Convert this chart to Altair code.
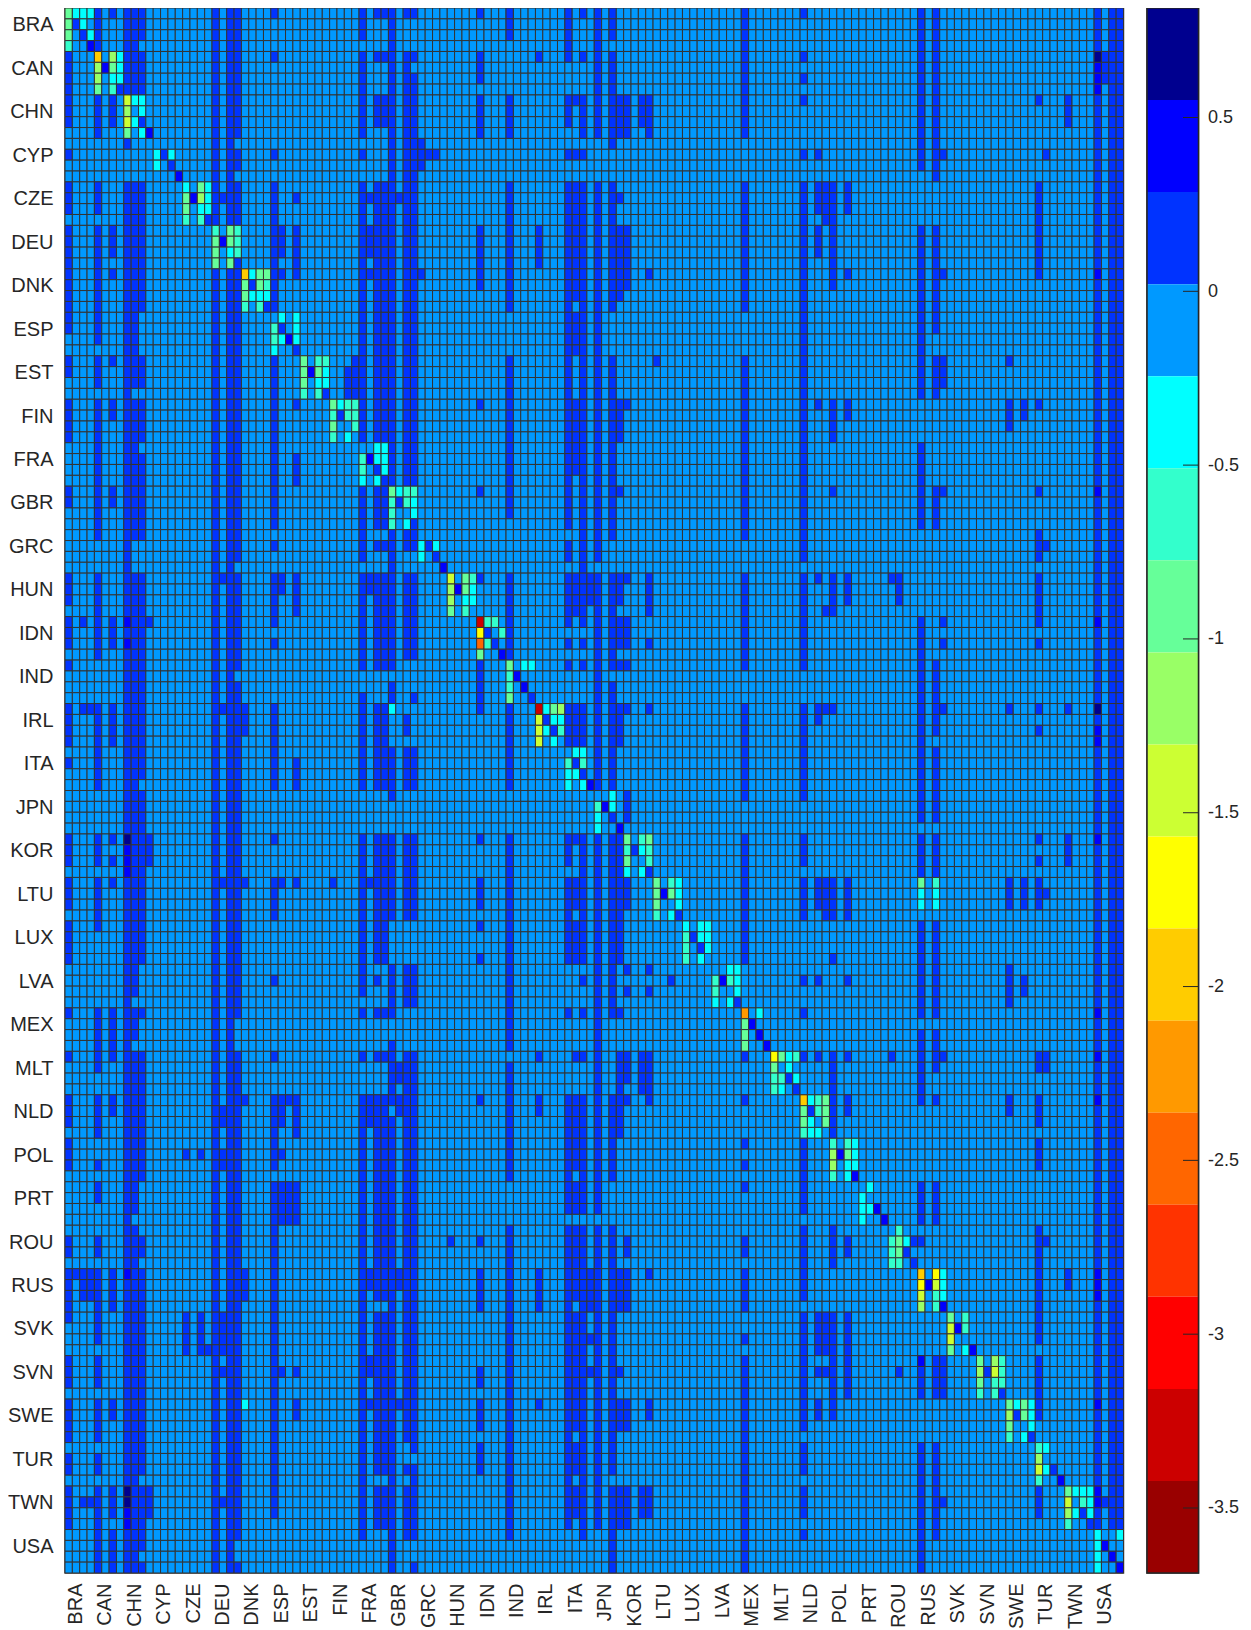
import altair as alt

alt.data_transformers.disable_max_rows()

COUNTRIES = ["BRA","CAN","CHN","CYP","CZE","DEU","DNK","ESP","EST","FIN","FRA","GBR","GRC","HUN","IDN","IND","IRL","ITA",
             "JPN","KOR","LTU","LUX","LVA","MEX","MLT","NLD","POL","PRT","ROU","RUS","SVK","SVN","SWE","TUR","TWN","USA"]

# colour levels, top of the colour bar first
LEVEL_COLORS = ["#00008f","#0000ff","#0033ff","#0099ff","#00ffff","#33ffcc","#66ff99","#99ff66","#ccff33",
                "#ffff00","#ffcc00","#ff9900","#ff6600","#ff3300","#ff0000","#cc0000","#990000"]
BAR_TOP = 0.815
BAR_BOTTOM = -3.687
BAR_TICKS = [0.5, 0, -0.5, -1, -1.5, -2, -2.5, -3, -3.5]

# Columns read as one hex digit per country row block (4 rows, high bit = first row); set bits are level 3
DENSE = {
    0: "0fe4 effc cf0c 0ee8 f40e ef08 8ee0 6f8e f6f0",
    4: "f0f0 effe efff 8ff0 ff0e f80f cf2c 6fee f6ff",
    6: "80e0 0e80 8c0c 00e0 f00a 800f 8c00 0f00 c0ef",
    8: "ff08 ffff ffff ffff ffff ffff ffff ffff ffff",
    9: "ff00 ffff efff 8fff ffff ffee fffe ffff ffff",
    10: "ef00 fff0 ef7f 8fff feff ff08 fff0 6fff fefd",
    20: "ffff f0ff ffff ffff ffff ffff ffff ffff ffff",
    22: "ffff f0ff ffff ffff ffff ffff ffff ffff ffff",
    23: "fff6 f0ff ffff effb ffff fff8 ffff ffff fff9",
    28: "8804 fff0 ffff 4fa0 ff08 f040 8fef ffff ffe0",
    40: "eff4 ffff ff0f eff9 ff0f ffe8 8fff ffff fff8",
    42: "88e0 ffff ff0f 4ff8 ff0f ff48 8fff feff fef0",
    43: "88e0 ffff ff0f 4ff8 ff0f ff08 8fff feff fef0",
    44: "ffff ffff fff0 fffb 0f8f f0f9 fbff ffff ffff",
    46: "8fff ffff fff0 cff0 6f0f f0f0 ffff ffff f2f8",
    47: "8bff ffff fff0 cff1 0f0f f0f0 ffff ffff fbf9",
    56: "8ef0 0fc0 0808 080f 8008 e900 0800 4f06 ee00",
    60: "e0f0 fff0 fffe 0ff0 ff0f ffff 7ff0 ffff fff8",
    68: "f8e4 ffff ffff 6fa8 f00e ff08 0ffe ffff fff0",
    69: "0084 ffef 0fe0 0f00 f008 ef00 8fee feff eee0",
    70: "88f4 ffff ffff ffa8 f00f ff48 8ffe ffff fff8",
    72: "fff0 ffff ffff efff ff0f ffff fffe ffff fff0",
    74: "eff8 fff0 ffff 8ffb ff0f fff8 0ff0 ffff feff",
    92: "fff0 fff0 ffff 8ff8 ff8f ff00 88a8 6f2f ffff",
    100: "8a84 ffff ffff eff8 ff8e f048 80fe feff eee8",
    116: "fffe 0fff f0ff 00ff ffef 0ffb f80f 400f 0fff",
    118: "ffff 0ffc f00f 000f efef 0ffb c80f 000f 0ff8",
    140: "ffff ffff ffff ffff ffff ffff ffff ffff ffff",
    142: "ffff ffff ffff ffff ffff ffff ffff ffff ffff",
    143: "ffff ffff ffff ffff ffff ffff ffff ffff ffff",
}

SPARSE = {
    1: {"RUS":"8"},
    2: {"IDN":"8","IRL":"8","RUS":"e","TWN":"4"},
    3: {"IRL":"8","RUS":"e","TWN":"4"},
    11: {"IDN":"8","KOR":"e","TWN":"e"},
    16: {"POL":"4","SVK":"f"},
    18: {"POL":"4","SVK":"f"},
    19: {"SVK":"1"},
    21: {"CZE":"4","HUN":"8","IRL":"8","LTU":"8","NLD":"6","POL":"6","SVK":"f","SVN":"4","TWN":"4"},
    24: {"IRL":"e","LTU":"8","NLD":"8","RUS":"e"},
    29: {"DEU":"e","DNK":"8","HUN":"c","LTU":"8","NLD":"e","POL":"4","PRT":"f","SVN":"4"},
    30: {"NLD":"8","PRT":"f"},
    31: {"CZE":"4","DEU":"f","DNK":"8","FIN":"8","FRA":"7","HUN":"f","ITA":"7","LTU":"8","NLD":"f","PRT":"f","SWE":"c","SVN":"4"},
    36: {"LTU":"8"},
    38: {"EST":"7"},
    39: {"EST":"f"},
    41: {"CZE":"4","DEU":"e","DNK":"8","HUN":"c","LTU":"8","NLD":"e","RUS":"c","SVN":"c","SWE":"8"},
    45: {"CZE":"4","MLT":"6","NLD":"c","RUS":"c","SWE":"8"},
    48: {"CYP":"e","DNK":"8"},
    49: {"CYP":"4"},
    50: {"CYP":"4"},
    52: {"ROU":"4"},
    64: {"CAN":"8","DEU":"f","MLT":"8","NLD":"c","RUS":"f","SWE":"8"},
    71: {"HUN":"e","RUS":"f","SVK":"2","SVN":"4"},
    75: {"CHN":"f","CZE":"4","DEU":"f","DNK":"e","FIN":"f","GBR":"8","HUN":"e","IDN":"e","IND":"8","IRL":"f","KOR":"f",
         "LTU":"f","LUX":"f","MEX":"8","MLT":"f","NLD":"f","RUS":"f","SVN":"4","SWE":"e","TWN":"f"},
    76: {"CHN":"f","DEU":"f","DNK":"c","FIN":"8","HUN":"8","IDN":"e","IND":"8","IRL":"8","JPN":"e","LTU":"e","LVA":"a",
         "MLT":"e","NLD":"8","ROU":"6","RUS":"f","SWE":"e","TWN":"f"},
    78: {"CHN":"e","MLT":"f","TWN":"e"},
    79: {"CHN":"f","DNK":"8","HUN":"f","IDN":"2","IRL":"8","LVA":"a","MLT":"f","NLD":"8","RUS":"8","SWE":"c","TWN":"e"},
    80: {"EST":"8"},
    82: {"LVA":"4"},
    102: {"CYP":"4","CZE":"e","DEU":"e","FIN":"8","HUN":"8","IRL":"c","LTU":"e","LVA":"4","MLT":"8","SVK":"f","SVN":"4","SWE":"c"},
    103: {"CZE":"f","HUN":"1","IRL":"8","LTU":"f","SVK":"f","SVN":"4"},
    104: {"CZE":"f","DEU":"f","DNK":"c","FIN":"f","GBR":"8","HUN":"f","IRL":"8","LUX":"1","LTU":"f","MLT":"f","NLD":"f",
          "ROU":"f","SVK":"f","SVN":"f","SWE":"c"},
    106: {"CZE":"e","DNK":"8","FIN":"c","HUN":"e","LTU":"f","LVA":"4","MLT":"8","NLD":"c","ROU":"6","SVK":"f","SVN":"f"},
    112: {"HUN":"8","MLT":"8"},
    113: {"HUN":"e","SVN":"4"},
    119: {"CYP":"4","DNK":"8","EST":"e","GBR":"8","IDN":"a","IRL":"8","MLT":"8","SVN":"f","TWN":"4"},
    128: {"EST":"8","FIN":"e","IRL":"8","LTU":"e","LVA":"f","NLD":"c"},
    130: {"FIN":"c","LTU":"e","LVA":"6"},
    132: {"CHN":"8","CZE":"f","DEU":"f","DNK":"8","FIN":"8","GBR":"8","GRC":"e","HUN":"f","IDN":"a","IRL":"a","KOR":"a",
          "LTU":"e","MLT":"c","NLD":"e","POL":"e","ROU":"f","RUS":"f","SVK":"e","SVN":"f","SWE":"c","TWN":"e"},
    133: {"CYP":"4","GRC":"4","LTU":"4","MLT":"c","ROU":"4"},
    136: {"CHN":"e","IRL":"8","KOR":"e","RUS":"c"},
    141: {"CAN":"e","TWN":"4"},
}

# Own-country 4x4 blocks, level per cell (1-9, a=10 ... h=17)
DIAG = {
    "BRA":"7555 7354 7435 6442", "CAN":"b485 8275 8455 7463", "CHN":"9554 8454 9534 7452",
    "CYP":"4444 5354 5434 4442", "CZE":"5475 7285 7455 6463", "DEU":"6476 7276 7456 7473",
    "DNK":"b577 7376 7555 6463", "ESP":"4545 6345 6525 5443", "EST":"7466 7275 7455 6463",
    "FIN":"7566 6366 7446 6454", "FRA":"4455 6255 6435 5453", "GBR":"7566 6365 6445 6453",
    "GRC":"4444 5354 5434 4442", "HUN":"9476 8275 8455 7464", "IDN":"g664 a346 d634 7442",
    "IND":"7455 6244 6424 7443", "IRL":"g578 9355 9536 9454", "ITA":"4554 6364 5534 5452",
    "JPN":"4454 6254 5434 5442", "KOR":"7467 6356 7446 5453", "LTU":"7465 7275 7445 6453",
    "LUX":"5455 6355 6435 6454", "LVA":"4455 6265 6445 5453", "MEX":"c454 7244 7424 7442",
    "MLT":"a756 7454 6635 6543", "NLD":"b567 7367 7547 6554", "POL":"6465 8275 8455 6452",
    "PRT":"4544 5444 5524 5442", "ROU":"4644 6753 6734 6643", "RUS":"b4a5 a295 9465 8462",
    "SVK":"7464 9264 9444 7452", "SVN":"7486 8396 7466 6463", "SWE":"7575 8375 7445 6453",
    "TUR":"6544 8444 9534 6442", "TWN":"7555 9465 8535 6443", "USA":"5445 5244 5424 5442",
}

# Single cells that stand out from the rest: (country row block, row in block, column, level)
OVERRIDES = [
    ("KOR",0,8,1),("KOR",1,8,2),("KOR",2,8,2),("KOR",3,8,2),
    ("TWN",0,8,1),("TWN",1,8,1),("TWN",2,8,2),("TWN",3,8,2),
    ("IDN",0,8,2),("IDN",2,8,2),("RUS",0,8,2),
    ("CAN",0,140,1),("CAN",1,140,2),("CAN",2,140,2),("CAN",3,140,2),
    ("DNK",0,140,2),("GBR",0,140,2),("IDN",0,140,2),("IRL",0,140,1),("IRL",2,140,2),("IRL",3,140,2),
    ("KOR",0,140,2),("MEX",0,140,2),("MLT",0,140,2),("NLD",0,140,2),
    ("RUS",0,140,2),("RUS",1,140,2),("RUS",2,140,2),("SWE",0,140,2),("TWN",0,140,2),("TWN",1,140,2),
    ("SVN",0,116,2),("IRL",0,44,5),("SWE",0,24,5),
    ("LTU",0,116,7),("LTU",1,116,5),("LTU",2,116,5),("LTU",3,116,4),
    ("LTU",0,118,6),("LTU",1,118,5),("LTU",2,118,5),("LTU",3,118,4),
]

N = 4 * len(COUNTRIES)
grid = [[4] * N for _ in range(N)]

def apply_mask(col, k, digit):
    d = int(digit, 16)
    for o in range(4):
        if (d >> (3 - o)) & 1:
            grid[4 * k + o][col] = 3

for col, text in DENSE.items():
    for k, digit in enumerate(text.replace(" ", "")):
        apply_mask(col, k, digit)
for col, entries in SPARSE.items():
    for name, digit in entries.items():
        apply_mask(col, COUNTRIES.index(name), digit)
for name, text in DIAG.items():
    k = COUNTRIES.index(name)
    for i, ch in enumerate(text.replace(" ", "")):
        grid[4 * k + i // 4][4 * k + i % 4] = int(ch, 36)
for name, o, col, level in OVERRIDES:
    grid[4 * COUNTRIES.index(name) + o][col] = level

step = (BAR_TOP - BAR_BOTTOM) / len(LEVEL_COLORS)
mid = [BAR_TOP - (i + 0.5) * step for i in range(len(LEVEL_COLORS))]
cells = [{"r": r, "c": c, "v": round(mid[grid[r][c] - 1], 4)} for r in range(N) for c in range(N)]

thresholds = [round(BAR_BOTTOM + step * i, 4) for i in range(1, len(LEVEL_COLORS))]
color_scale = alt.Scale(type="threshold", domain=thresholds, range=LEVEL_COLORS[::-1])

names_js = "[" + ",".join(f"'{n}'" for n in COUNTRIES) + "]"
label_expr = f"{names_js}[floor(datum.value/4)]"
FONT = "Liberation Sans"
tick_idx = [4 * k + 1 for k in range(len(COUNTRIES))]
index_domain = list(range(N))

heat = alt.Chart(alt.Data(values=cells)).mark_rect(stroke="#333333", strokeWidth=1).encode(
    x=alt.X("c:O", scale=alt.Scale(domain=index_domain, paddingInner=0, paddingOuter=0),
            axis=alt.Axis(values=tick_idx, labelExpr=label_expr, title=None, orient="bottom", domain=False, ticks=False,
                          labelAngle=270, labelAlign="right", labelBaseline="middle", labelPadding=10,
                          labelFont=FONT, labelFontSize=20, labelColor="#262626", grid=False, labelOverlap=False)),
    y=alt.Y("r:O", scale=alt.Scale(domain=index_domain, paddingInner=0, paddingOuter=0),
            axis=alt.Axis(values=tick_idx, labelExpr=label_expr, title=None, domain=False, ticks=False,
                          labelPadding=12, labelOffset=1, labelFont=FONT, labelFontSize=20, labelColor="#262626",
                          grid=False, labelOverlap=False, minExtent=55.5, maxExtent=55.5)),
    color=alt.Color("v:Q", scale=color_scale, legend=None),
    tooltip=alt.value(None),
).properties(width=1058.5, height=1565)

bands = [{"hi": BAR_TOP - i * step, "lo": BAR_TOP - (i + 1) * step, "v": round(mid[i], 4)}
         for i in range(len(LEVEL_COLORS))]
y_bar = alt.Y("lo:Q", scale=alt.Scale(domain=[BAR_BOTTOM, BAR_TOP], nice=False, zero=False),
              axis=alt.Axis(orient="right", values=BAR_TICKS, title=None, domain=False, ticks=False, grid=False,
                            labelPadding=9, labelFont=FONT, labelFontSize=18, labelColor="#262626",
                            labelExpr="'' + datum.value", labelOverlap=False))
bar_rect = alt.Chart(alt.Data(values=bands)).mark_rect().encode(
    y=y_bar, y2="hi:Q",
    x=alt.value(0), x2=alt.value(51.5),
    color=alt.Color("v:Q", scale=color_scale, legend=None),
)
bar_ticks = alt.Chart(alt.Data(values=[{"lo": t} for t in BAR_TICKS])).mark_rule(color="#262626", strokeWidth=1).encode(
    y=y_bar,
    x=alt.value(36), x2=alt.value(51.5),
)
bar_frame = alt.Chart(alt.Data(values=[{"lo": BAR_BOTTOM}])).mark_rect(fillOpacity=0, stroke="#262626", strokeWidth=1.5).encode(
    x=alt.value(0), x2=alt.value(51.5), y=alt.value(0), y2=alt.value(1565),
)
bar = alt.layer(bar_rect, bar_ticks, bar_frame).properties(width=51.5, height=1565)

chart = alt.hconcat(heat, bar, spacing=20).properties(
    padding={"left": -2, "top": -2, "right": 0, "bottom": 0}
).configure_view(stroke="#404040", strokeWidth=1.5)

chart.save("out.html", embed_options={"renderer": "svg", "actions": False})
